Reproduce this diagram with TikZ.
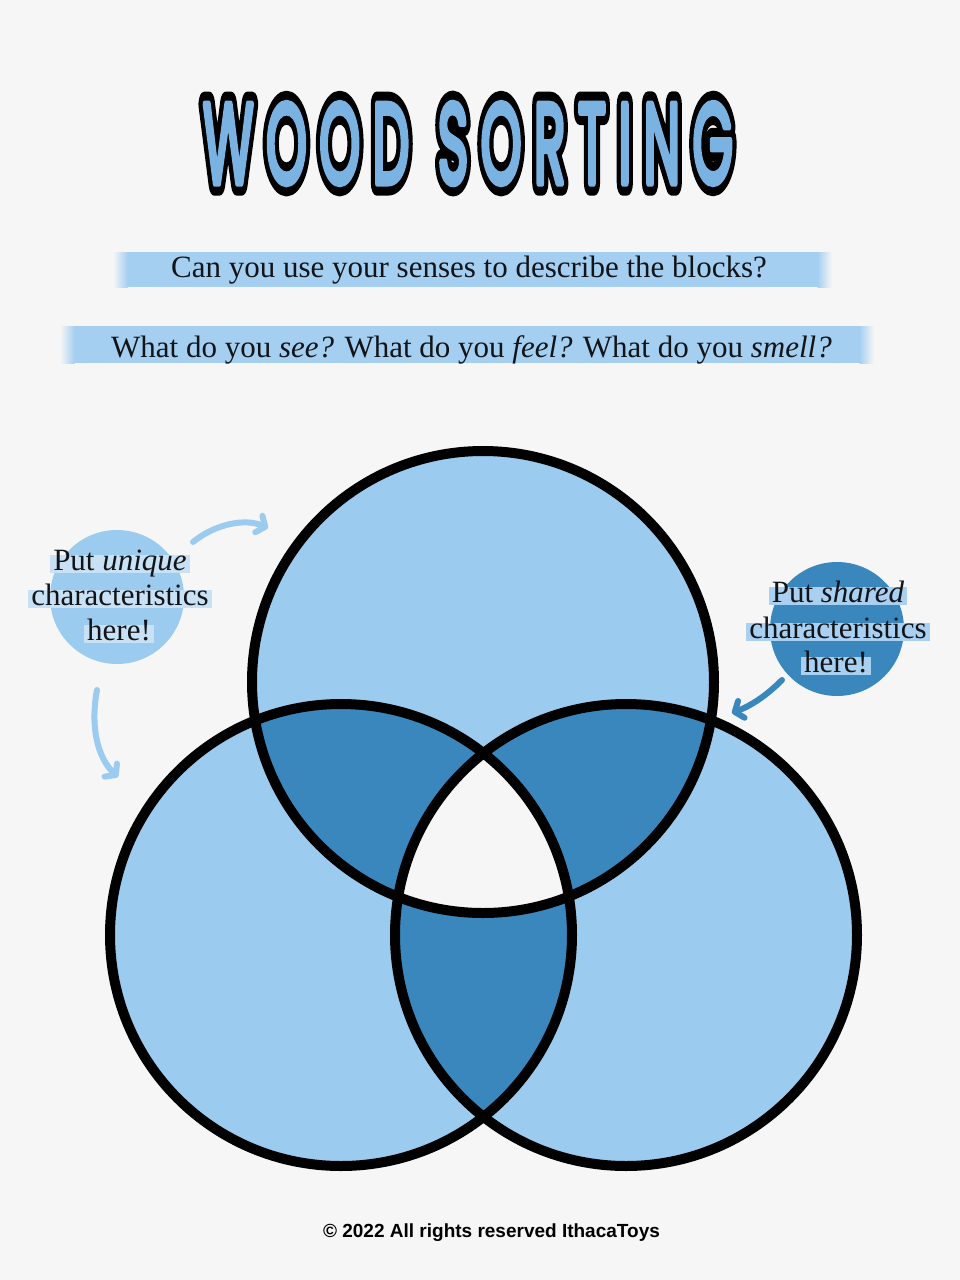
\documentclass[tikz,border=0pt]{standalone}
\usepackage{fontspec}
\setmainfont{Liberation Serif}
\newfontfamily\footfont{Liberation Sans}
\newfontfamily\titlefont[LetterSpace=24,FakeBold=6]{Poppins}
\newfontfamily\titleout[LetterSpace=24,FakeBold=22]{Poppins}
\usetikzlibrary{arrows.meta}
\definecolor{bg}{HTML}{F6F6F6}
\definecolor{lb}{HTML}{9BCBEF}
\definecolor{db}{HTML}{3A87BE}
\definecolor{hb}{HTML}{A5CFF1}
\definecolor{hlL}{HTML}{C8E1F5}
\definecolor{hlR}{HTML}{A9D0F0}
\definecolor{ink}{HTML}{111418}
\definecolor{tb}{HTML}{7AB2E2}
\newcommand{\titletxt}[1]{\resizebox{530pt}{80pt}{\fontsize{100}{110}#1\selectfont WOOD\hspace{0.55em}SORTING}}
\tikzset{
  big/.style={font=\fontsize{31}{35}\selectfont, text=ink, anchor=base, inner sep=0pt},
  hline/.style={font=\fontsize{31}{35}\selectfont, text=ink, anchor=base, inner xsep=3pt, inner ysep=0pt, text height=15pt, text depth=3pt},
  bubble/.style={circle, minimum size=134pt, inner sep=0pt},
  vring/.style={draw=black, line width=10pt},
  ttl/.style={inner sep=0pt, line join=round, line cap=round},
  arr/.style={line width=6pt, line cap=round, -{Straight Barb[length=7pt,width=18pt,line cap=round,line join=round]}},
}
\begin{document}
\begin{tikzpicture}[x=1pt,y=-1pt,line join=round]
\fill[bg] (0,0) rectangle (960,1280);
\useasboundingbox (0,0) rectangle (960,1280);

% title: black emboldened copy under the blue text
\node[ttl, text=black] (titleback) at (468,143.5) {\titletxt{\titleout}};
\node[ttl, text=tb] (title) at (468,143.5) {\titletxt{\titlefont}};

% header bars
\fill[hb] (127,252) rectangle (818,287);
\shade[left color=bg, right color=hb] (113,252) rectangle (127.5,287);
\shade[left color=hb, right color=bg] (817.5,252) rectangle (832,287);
\node[big] (q1) at (469,277) {Can you use your senses to describe the blocks?};

\fill[hb] (74,326) rectangle (860,363);
\shade[left color=bg, right color=hb] (60,326) rectangle (74.5,363);
\shade[left color=hb, right color=bg] (859.5,326) rectangle (874,363);
\node[big] (q2) at (471.5,357) {What do you \textit{see?} What do you \textit{feel?} What do you \textit{smell?}};

% Venn diagram
\coordinate (T) at (483,682);
\coordinate (L) at (341,935);
\coordinate (R) at (626,935);
\fill[lb] (T) circle[radius=231pt];
\fill[lb] (L) circle[radius=231pt];
\fill[lb] (R) circle[radius=231pt];
\begin{scope}
  \clip (T) circle[radius=231pt];
  \fill[db] (L) circle[radius=231pt];
  \fill[db] (R) circle[radius=231pt];
\end{scope}
\begin{scope}
  \clip (L) circle[radius=231pt];
  \fill[db] (R) circle[radius=231pt];
\end{scope}
\begin{scope}
  \clip (T) circle[radius=231pt];
  \clip (L) circle[radius=231pt];
  \fill[bg] (R) circle[radius=231pt];
\end{scope}
\draw[vring] (T) circle[radius=231pt];
\draw[vring] (L) circle[radius=231pt];
\draw[vring] (R) circle[radius=231pt];

% left bubble
\node[bubble, fill=lb] (ub) at (117,597) {};
\node[hline, fill=hlL] (u1) at (120,570) {Put \textit{unique}};
\node[hline, fill=hlL] (u2) at (120,605) {characteristics};
\node[hline, fill=hlL] (u3) at (119,640) {here!};

% right bubble
\node[bubble, fill=db] (sb) at (837,629) {};
\node[hline, fill=hlR] (s1) at (838,602) {Put \textit{shared}};
\node[hline, fill=hlR] (s2) at (838,638) {characteristics};
\node[hline, fill=hlR] (s3) at (836,672) {here!};

% arrows
\coordinate (a1s) at (193,542);
\coordinate (a1e) at (268,528);
\draw[arr, draw=lb] (a1s) .. controls (215,524) and (245,518) .. (a1e);
\coordinate (a2s) at (97,690);
\coordinate (a2e) at (118,777);
\draw[arr, draw=lb] (a2s) .. controls (90,728) and (98,758) .. (a2e);
\coordinate (a3s) at (782,680);
\coordinate (a3e) at (732,713);
\draw[arr, draw=db] (a3s) .. controls (765,697) and (750,706) .. (a3e);

% footer
\node[font=\footfont\bfseries\fontsize{19}{22}\selectfont, anchor=base, inner sep=0pt, text=black] (foot) at (491.5,1237) {© 2022 All rights reserved IthacaToys};
\end{tikzpicture}
\end{document}
